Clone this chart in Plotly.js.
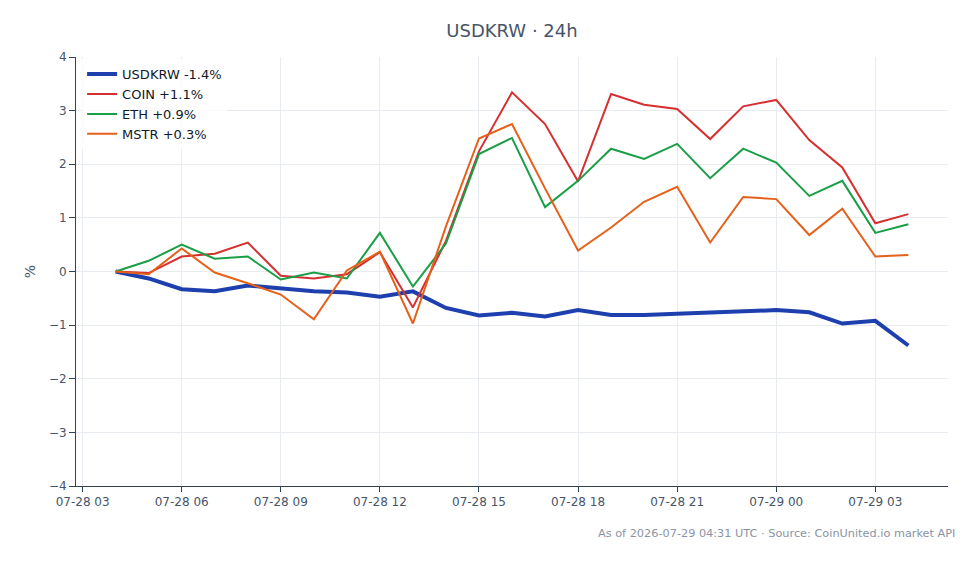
<!DOCTYPE html>
<html>
<head>
<meta charset="utf-8">
<script src="https://cdn.plot.ly/plotly-3.0.1.min.js"></script>
<style>html,body{margin:0;padding:0;background:#fff;}#chart{width:980px;height:564px;}</style>
</head>
<body>
<div id="chart"></div>
<script>
const times = [
  "2026-07-28 04:00","2026-07-28 05:00","2026-07-28 06:00","2026-07-28 07:00","2026-07-28 08:00",
  "2026-07-28 09:00","2026-07-28 10:00","2026-07-28 11:00","2026-07-28 12:00","2026-07-28 13:00",
  "2026-07-28 14:00","2026-07-28 15:00","2026-07-28 16:00","2026-07-28 17:00","2026-07-28 18:00",
  "2026-07-28 19:00","2026-07-28 20:00","2026-07-28 21:00","2026-07-28 22:00","2026-07-28 23:00",
  "2026-07-29 00:00","2026-07-29 01:00","2026-07-29 02:00","2026-07-29 03:00","2026-07-29 04:00"
];
const usdkrw = [0, -0.13, -0.33, -0.37, -0.26, -0.31, -0.37, -0.39, -0.47, -0.37, -0.68, -0.82, -0.77, -0.84, -0.72, -0.81, -0.81, -0.79, -0.77, -0.74, -0.72, -0.76, -0.97, -0.92, -1.38];
const coin   = [0, -0.03, 0.28, 0.33, 0.54, -0.08, -0.13, -0.05, 0.36, -0.67, 0.57, 2.24, 3.34, 2.75, 1.68, 3.31, 3.11, 3.03, 2.47, 3.08, 3.20, 2.45, 1.94, 0.90, 1.07];
const eth    = [0, 0.20, 0.50, 0.24, 0.28, -0.15, -0.02, -0.13, 0.72, -0.28, 0.52, 2.19, 2.49, 1.20, 1.69, 2.29, 2.10, 2.38, 1.74, 2.29, 2.03, 1.41, 1.69, 0.72, 0.88];
const mstr   = [0, -0.05, 0.43, -0.02, -0.22, -0.43, -0.89, 0.02, 0.37, -0.97, 0.84, 2.48, 2.75, 1.55, 0.39, 0.82, 1.30, 1.58, 0.54, 1.39, 1.35, 0.68, 1.17, 0.28, 0.31];
const seriesNames = ["USDKRW -1.4%", "COIN +1.1%", "ETH +0.9%", "MSTR +0.3%"];
const yTicks = [-4, -3, -2, -1, 0, 1, 2, 3, 4];
const yTickText = ["\u22124", "\u22123", "\u22122", "\u22121", "0", "1", "2", "3", "4"];

const font = "DejaVu Sans, sans-serif";
const traces = [
  {x: times, y: usdkrw, name: seriesNames[0], mode: "lines", line: {color: "#1e40af", width: 4}},
  {x: times, y: coin, name: seriesNames[1], mode: "lines", line: {color: "#d62f2f", width: 2}},
  {x: times, y: eth, name: seriesNames[2], mode: "lines", line: {color: "#1a9e47", width: 2}},
  {x: times, y: mstr, name: seriesNames[3], mode: "lines", line: {color: "#e5601a", width: 2}}
];
const layout = {
  width: 980, height: 564,
  margin: {l: 76, r: 32, t: 57, b: 78},
  paper_bgcolor: "#ffffff", plot_bgcolor: "#ffffff",
  font: {family: font, size: 12, color: "#475569"},
  title: {text: "USDKRW \u00b7 24h", xref: "paper", x: 0.5, xanchor: "center", y: 0.945, yanchor: "middle",
          font: {family: font, size: 18, color: "#475569"}},
  showlegend: true,
  legend: {x: 0.007, y: 0.995, xanchor: "left", yanchor: "top", bgcolor: "rgba(255,255,255,0.8)",
           font: {family: font, size: 13, color: "#111827"}, tracegroupgap: 0},
  xaxis: {
    type: "date",
    range: ["2026-07-28 02:48", "2026-07-29 05:12"],
    tick0: "2026-07-28 00:00", dtick: 10800000, tickformat: "%m-%d %H",
    showgrid: true, gridcolor: "#e8ebf0", gridwidth: 1,
    showline: true, linecolor: "#334155", linewidth: 1,
    ticks: "outside", ticklen: 5, tickcolor: "#334155",
    tickfont: {family: font, size: 12, color: "#475569"},
    zeroline: false
  },
  yaxis: {
    range: [-4, 4],
    tickvals: yTicks, ticktext: yTickText,
    showgrid: true, gridcolor: "#e8ebf0", gridwidth: 1,
    showline: true, linecolor: "#334155", linewidth: 1,
    ticks: "outside", ticklen: 6, tickcolor: "#334155",
    tickfont: {family: font, size: 12, color: "#475569"},
    zeroline: false,
    title: {text: "%", font: {family: font, size: 14, color: "#475569"}, standoff: 9}
  },
  shapes: [
    {type: "line", xref: "paper", x0: 0, x1: 1, yref: "y", y0: 0, y1: 0,
     line: {color: "#94a3b8", width: 1.2, dash: "dash"}, layer: "below"}
  ],
  annotations: [
    {text: "As of 2026-07-29 04:31 UTC \u00b7 Source: CoinUnited.io market API",
     xref: "paper", yref: "paper", x: 1.01, y: -0.09, xanchor: "right", yanchor: "top",
     showarrow: false, font: {family: font, size: 11.3, color: "#8a94a3"}}
  ]
};
Plotly.newPlot("chart", traces, layout, {displayModeBar: false, staticPlot: true});
</script>
</body>
</html>
